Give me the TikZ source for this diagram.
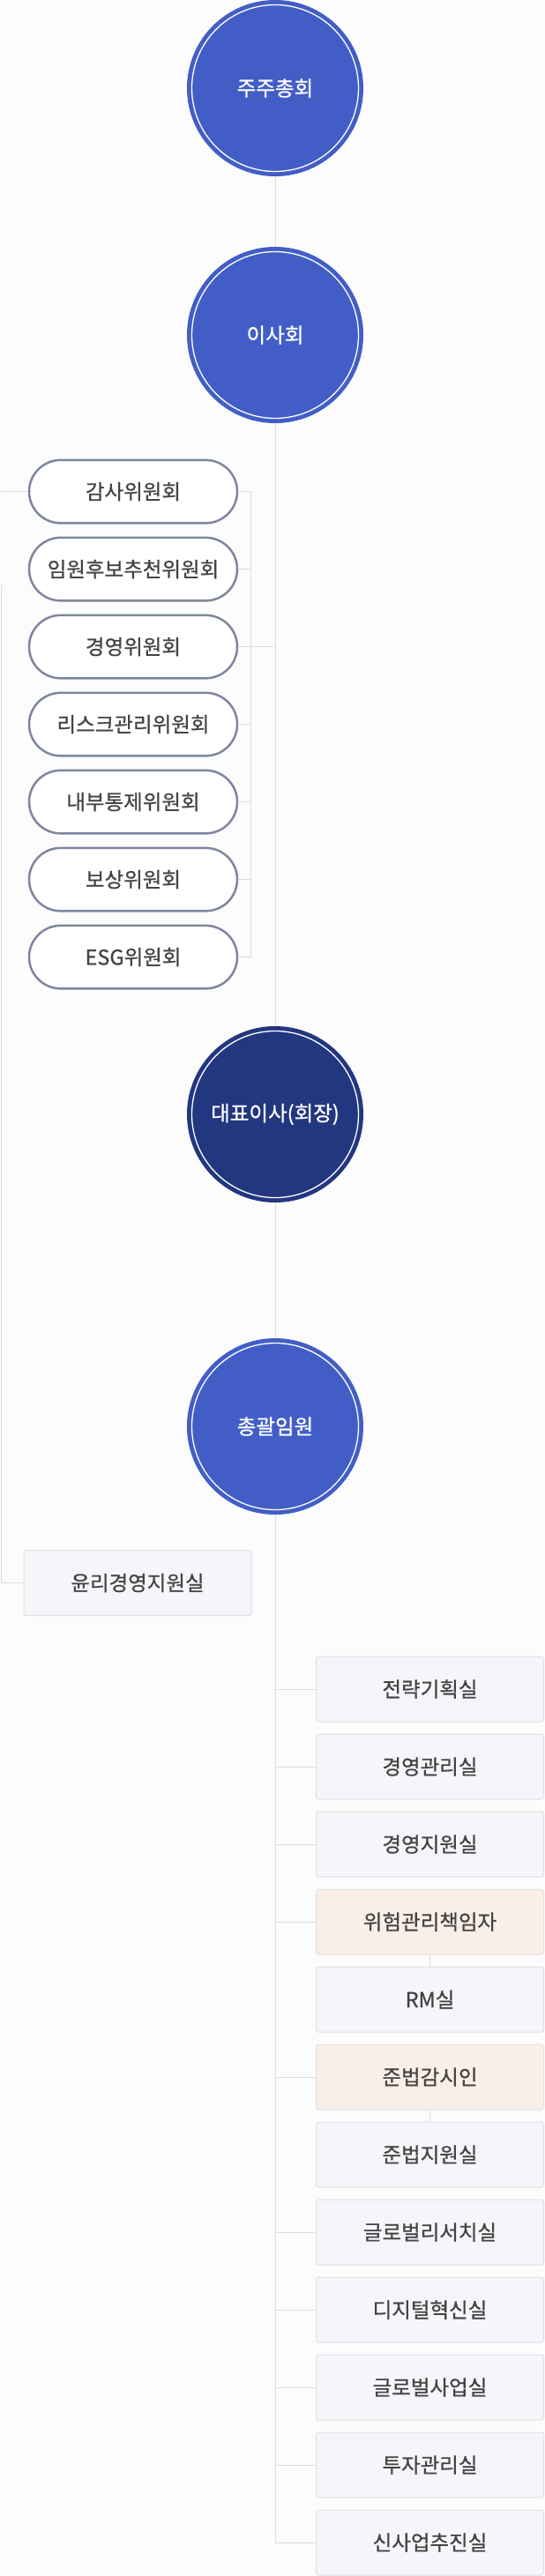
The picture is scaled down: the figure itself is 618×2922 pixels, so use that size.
\documentclass[tikz,border=0pt]{standalone}
\usepackage{fontspec}
\setmainfont{Noto Sans CJK KR}[FakeBold=0.8]
\usetikzlibrary{shapes.misc, positioning}

\definecolor{pagebg}{HTML}{FCFCFC}
\definecolor{boardblue}{HTML}{425EC6}
\definecolor{ceonavy}{HTML}{233780}
\definecolor{pillline}{HTML}{7F869F}
\definecolor{linkgray}{HTML}{DDDDDD}
\definecolor{unitfill}{HTML}{F5F6FA}
\definecolor{unitline}{HTML}{DFE0E4}
\definecolor{riskfill}{HTML}{FAEFE7}
\definecolor{labeltext}{HTML}{444444}

\begin{document}
\begin{tikzpicture}[x=1pt, y=-1pt,
        every node/.style={font=\fontsize{23.5}{28}\selectfont},
        head/.style={circle, fill=boardblue, minimum size=200pt, inner sep=0pt, text=white,
            path picture={\draw[white, line width=1.3pt] (path picture bounding box.center) circle (94.5pt);}},
        ceohead/.style={head, fill=ceonavy},
        committee/.style={rounded rectangle, draw=pillline, line width=2.5pt, fill=white,
            minimum width=236pt, minimum height=71.5pt, inner sep=0pt, text=labeltext},
        unit/.style={rectangle, rounded corners=3pt, draw=unitline, line width=1pt, fill=unitfill,
            minimum width=258pt, minimum height=74pt, inner sep=0pt, text=labeltext},
        riskunit/.style={unit, fill=riskfill},
        link/.style={draw=linkgray, line width=1pt}]

        \fill[pagebg] (0, 0) rectangle (618, 2922);
        \useasboundingbox (0, 0) rectangle (618, 2922);

        \node[head] (gms) at (312, 100) {주주총회};
        \node[head] (board) at (312, 380) {이사회};
        \node[ceohead] (ceo) at (312, 1264) {대표이사(회장)};
        \node[head] (chief) at (312, 1618) {총괄임원};

        \node[committee] (cmA) at (151, 557.6) {감사위원회};
        \node[committee] (cmB) at (151, 645.6) {임원후보추천위원회};
        \node[committee] (cmC) at (151, 733.6) {경영위원회};
        \node[committee] (cmD) at (151, 821.6) {리스크관리위원회};
        \node[committee] (cmE) at (151, 909.6) {내부통제위원회};
        \node[committee] (cmF) at (151, 997.6) {보상위원회};
        \node[committee] (cmG) at (151, 1085.6) {ESG위원회};

        \node[unit] (ethics) at (156, 1795.5) {윤리경영지원실};

        \node[unit] (unitA) at (487.5, 1916) {전략기획실};
        \node[unit] (unitB) at (487.5, 2004) {경영관리실};
        \node[unit] (unitC) at (487.5, 2092) {경영지원실};
        \node[riskunit] (unitD) at (487.5, 2180) {위험관리책임자};
        \node[unit] (unitE) at (487.5, 2268) {RM실};
        \node[riskunit] (unitF) at (487.5, 2356) {준법감시인};
        \node[unit] (unitG) at (487.5, 2444) {준법지원실};
        \node[unit] (unitH) at (487.5, 2532) {글로벌리서치실};
        \node[unit] (unitI) at (487.5, 2620) {디지털혁신실};
        \node[unit] (unitJ) at (487.5, 2708) {글로벌사업실};
        \node[unit] (unitK) at (487.5, 2796) {투자관리실};
        \node[unit] (unitL) at (487.5, 2884) {신사업추진실};

        \coordinate (brk) at (284.6, 0);
        \coordinate (edge) at (1, 0);
        \coordinate (edgetop) at (1, 663);

        % main spine
        \draw[link] (gms) -- (board) -- (ceo) -- (chief)
            (chief) -- (chief.south |- unitL.west) -- (unitL.west);

        % committees
        \draw[link] (cmA.east) -- (cmA.east -| brk) -- (cmG.east -| brk) -- (cmG.east)
            (cmB.east) -- (cmB.east -| brk)
            (cmC.east) -- (cmC.east -| brk)
            (cmD.east) -- (cmD.east -| brk)
            (cmE.east) -- (cmE.east -| brk)
            (cmF.east) -- (cmF.east -| brk)
            (cmC.east -| brk) -- (cmC.east -| board.south);
        \draw[link] (cmA.west) -- (cmA.west -| edge)
            (edgetop) -- (edge |- ethics.west) -- (ethics.west);

        % offices
        \draw[link] (unitA.west -| chief.south) -- (unitA.west)
            (unitB.west -| chief.south) -- (unitB.west)
            (unitC.west -| chief.south) -- (unitC.west)
            (unitD.west -| chief.south) -- (unitD.west)
            (unitF.west -| chief.south) -- (unitF.west)
            (unitH.west -| chief.south) -- (unitH.west)
            (unitI.west -| chief.south) -- (unitI.west)
            (unitJ.west -| chief.south) -- (unitJ.west)
            (unitK.west -| chief.south) -- (unitK.west);
        \draw[link] (unitD) -- (unitE)
            (unitF) -- (unitG);
    \end{tikzpicture}
\end{document}
